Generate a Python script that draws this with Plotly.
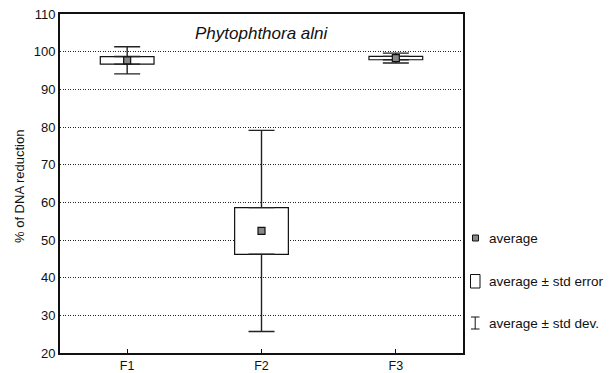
import plotly.graph_objects as go

categories = ["F1", "F2", "F3"]
means = [97.7, 52.4, 98.3]
std_err = [1.0, 6.2, 0.45]
std_dev = [3.6, 26.7, 1.3]

y_ticks = [20, 30, 40, 50, 60, 70, 80, 90, 100, 110]
title_text = "Phytophthora alni"
y_title = "% of DNA reduction"
legend_labels = ["average", "average ± std error", "average ± std dev."]

FONT = "Liberation Sans"
L, R, T, B = 60, 152, 14, 20
W, H = 615, 373

box_lo = [m - s for m, s in zip(means, std_err)]
box_hi = [m + s for m, s in zip(means, std_err)]
whisk_len = [d - s for d, s in zip(std_dev, std_err)]

fig = go.Figure()

# upper whiskers
fig.add_trace(go.Scatter(
    x=categories, y=box_hi, mode="markers",
    marker=dict(size=1, color="rgba(0,0,0,0)"),
    error_y=dict(type="data", symmetric=False, array=whisk_len,
                 arrayminus=[0] * len(categories),
                 color="#222", thickness=1.4, width=13),
    showlegend=False, hoverinfo="skip"))
# lower whiskers
fig.add_trace(go.Scatter(
    x=categories, y=box_lo, mode="markers",
    marker=dict(size=1, color="rgba(0,0,0,0)"),
    error_y=dict(type="data", symmetric=False, array=[0] * len(categories),
                 arrayminus=whisk_len,
                 color="#222", thickness=1.4, width=13),
    showlegend=False, hoverinfo="skip"))
# std error boxes
fig.add_trace(go.Bar(
    x=categories, y=[h - l for h, l in zip(box_hi, box_lo)], base=box_lo,
    width=0.4, marker=dict(color="white", line=dict(color="#111", width=1.2)),
    showlegend=False, hoverinfo="skip"))
# means
fig.add_trace(go.Scatter(
    x=categories, y=means, mode="markers",
    marker=dict(symbol="square", size=7, color="#888888",
                line=dict(color="#111", width=1.2)),
    showlegend=False))

fig.update_layout(
    width=W, height=H,
    margin=dict(l=L, r=R, t=T, b=B, autoexpand=False),
    paper_bgcolor="white", plot_bgcolor="white",
    font=dict(family=FONT, size=12, color="#111"),
    barmode="overlay",
)
fig.update_xaxes(
    range=[-0.5, 2.5], showline=True, linecolor="#111", linewidth=2,
    mirror=True, ticks="inside", ticklen=4, tickcolor="#111",
    showgrid=False, tickfont=dict(size=12.5), automargin=False)
fig.update_yaxes(
    range=[20, 110], tickvals=y_ticks, showline=True, linecolor="#111",
    linewidth=2, mirror=True, ticks="", showgrid=True, gridcolor="#222",
    griddash="1px,1.5px", gridwidth=1, zeroline=False, tickfont=dict(size=13),
    automargin=False)

def px_x(p):
    return (p - L) / (W - L - R)
def px_y(p):
    return (H - B - p) / (H - B - T)

fig.add_annotation(
    text=y_title, xref="paper", yref="paper", x=px_x(19), y=px_y(187),
    textangle=-90, showarrow=False, xanchor="center", yanchor="middle",
    font=dict(size=13, family=FONT))

fig.add_annotation(
    text=title_text, xref="paper", yref="paper", x=px_x(262), y=px_y(33),
    showarrow=False, font=dict(size=17, family=FONT, style="italic"),
    xanchor="center", yanchor="middle")

# custom legend
fig.add_shape(type="rect", xref="paper", yref="paper",
              x0=px_x(472.5), x1=px_x(478.5), y0=px_y(241), y1=px_y(235),
              fillcolor="#888888", line=dict(color="#111", width=1))
fig.add_shape(type="rect", xref="paper", yref="paper",
              x0=px_x(470.5), x1=px_x(480), y0=px_y(288), y1=px_y(274.5),
              fillcolor="white", line=dict(color="#111", width=1))
fig.add_shape(type="line", xref="paper", yref="paper",
              x0=px_x(475.2), x1=px_x(475.2), y0=px_y(329), y1=px_y(317),
              line=dict(color="#111", width=1))
fig.add_shape(type="line", xref="paper", yref="paper",
              x0=px_x(471), x1=px_x(479.5), y0=px_y(317), y1=px_y(317),
              line=dict(color="#111", width=1))
fig.add_shape(type="line", xref="paper", yref="paper",
              x0=px_x(471), x1=px_x(479.5), y0=px_y(329), y1=px_y(329),
              line=dict(color="#111", width=1))
for label, ypix in zip(legend_labels, [239, 281, 323]):
    fig.add_annotation(text=label, xref="paper", yref="paper",
                       x=px_x(487), y=px_y(ypix), showarrow=False,
                       xanchor="left", yanchor="middle",
                       font=dict(size=13.5, family=FONT))

fig.write_html("out.html",
               config={"displayModeBar": False},
               post_script="document.body.style.margin='0';"
                           "document.body.style.overflow='hidden';")
